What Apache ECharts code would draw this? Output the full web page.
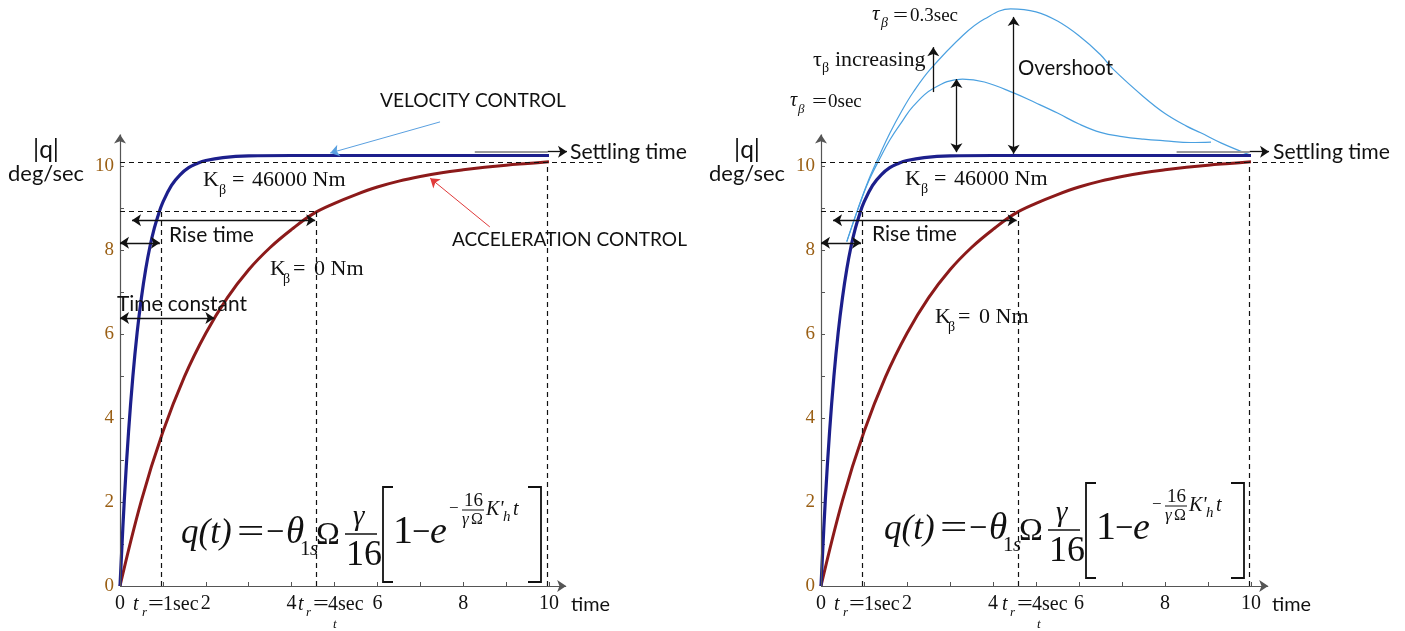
<!DOCTYPE html>
<html><head><meta charset="utf-8">
<script src="https://cdn.jsdelivr.net/npm/echarts@6/dist/echarts.min.js"></script>
<style>html,body{margin:0;padding:0;background:#fff}#c{width:1405px;height:631px}</style>
</head><body><div id="c"></div>
<script>
// ---------- data ----------
const tBlue = [0,0.1,0.2,0.3,0.4,0.5,0.6,0.7,0.8,0.9,1.0,1.2,1.4,1.6,1.8,2.0,2.4,3,4,5,6,7,8,9,10];
const qBlue = [0,2.04,3.68,4.99,6.04,6.87,7.55,8.09,8.52,8.86,9.14,9.54,9.79,9.96,10.06,10.13,10.2,10.24,10.25,10.25,10.25,10.25,10.25,10.25,10.25];
const tRed = [0,0.5,1,1.5,2,2.5,3,3.5,4,4.5,5,5.5,6,6.5,7,7.5,8,8.5,9,9.5,10];
const qRed = [0,2.04,3.67,4.98,6.02,6.86,7.53,8.06,8.49,8.86,9.11,9.32,9.5,9.64,9.75,9.84,9.91,9.97,10.02,10.06,10.1];
const tOverLow = [0.6,0.85,1.1,1.38,1.6,1.9,2.14,2.6,3.29,3.8,4.48,5.0,5.5,6.0,6.5,7.0,7.5,8.0,8.6,9.07];
const qOverLow = [8.2,8.95,9.62,10.2,10.62,11.08,11.42,11.84,12.07,12.0,11.74,11.5,11.26,11.0,10.8,10.7,10.64,10.6,10.56,10.57];
const tOverHigh = [0.6,0.85,1.1,1.38,1.6,1.9,2.14,2.54,3.31,3.8,4.41,5.0,5.5,6.0,6.5,6.8,7.5,8.0,8.5,8.83,9.3,9.98];
const qOverHigh = [8.2,8.95,9.65,10.3,10.78,11.35,11.75,12.3,13.12,13.5,13.74,13.67,13.45,13.1,12.65,12.3,11.65,11.25,10.95,10.79,10.55,10.26];
const xTickLabels = [0,2,4,6,8,10];
const yTickLabels = [0,2,4,6,8,10];
const tickValues = [0,1,2,3,4,5,6,7,8,9,10];
// annotation levels / times
const finalLevel = 10.1, riseLevel = 8.93, trVel = 0.95, trAcc = 4.58, tSettle = 9.97;
const riseArrowLevel = 8.71, velArrowLevel = 8.17, tcLevel = 6.38, tcTime = 2.2, settleLevel = 10.34;
const xAxisEnd = 10.4, yAxisEnd = 10.75;

// ---------- helpers ----------
const SERIF = '"Liberation Serif"';
const SANS = 'Lato';
const cv = document.createElement('canvas').getContext('2d');
function fit(text, family, target, style) {
  cv.font = (style || '') + ' 100px ' + family;
  return 100 * target / cv.measureText(text).width;
}
function txt(x, cy, text, size, family, o) {
  o = o || {};
  return {type:'text', x:x, y:cy, scaleX:o.sx||1, silent:true, z:100,
    style:{text:text, x:0, y:0, fill:o.color||'#111',
      font:(o.italic?'italic ':'')+size+'px '+family,
      textAlign:o.align||'left', textVerticalAlign:'middle', verticalAlign:'middle'}};
}
function b(x, base, text, size, o) { return txt(x, base - 0.34*size, text, size, (o&&o.family)||SERIF, o); }
function sans(x, cy, text, width, o) {
  const s = fit(text, SANS, width);
  return txt(x, cy, text, s, SANS, o);
}
function line(x1,y1,x2,y2,w){return {type:'line',silent:true,z:100,shape:{x1,y1,x2,y2},style:{stroke:'#111',lineWidth:w||1.5}};}
function poly(pts,w){return {type:'polyline',silent:true,z:100,shape:{points:pts},style:{stroke:'#111',lineWidth:w||1.8,fill:null}};}

function equation(dx, dy) {
  const e = [];
  const B = (x, base, t, s, it, sx) => e.push(b(x+dx, base+dy, t, s, {italic:it, sx:sx}));
  B(181,546,'q(t)',35,true);
  B(237,546,'=',36,false,1.35);
  B(266,546,'\u2212',36,false,0.9);
  B(286,546,'\u03b8',37,true);
  B(300,557,'1',21,false);
  B(310,557,'s',21,true);
  B(316,546,'\u03a9',32,false);
  B(353,527,'\u03b3',29,true);
  e.push(line(345+dx,534+dy,377+dx,534+dy,1.5));
  B(346,568,'16',36,false);
  e.push(poly([[393+dx,487+dy],[383+dx,487+dy],[383+dx,582+dy],[393+dx,582+dy]],1.8));
  B(393,546,'1',40,false);
  B(412,546,'\u2212',36,false,0.9);
  B(430,546,'e',38,true);
  B(449,514,'\u2212',17,false);
  B(464,507,'16',19,false);
  e.push(line(462+dx,510+dy,484+dx,510+dy,1));
  B(462,525,'\u03b3',17,true);
  B(471,525,'\u03a9',16,false);
  B(486,517,"K'",20,true);
  B(503,522,'h',15,true);
  B(513,517,'t',20,true);
  e.push(poly([[528+dx,487+dy],[541+dx,487+dy],[541+dx,582+dy],[528+dx,582+dy]],1.8));
  return e;
}

function panelTexts(dx, right) {
  const e = [];
  const B = (x, base, t, s, it, sx) => e.push(b(x+dx, base, t, s, {italic:it, sx:sx}));
  // axis names
  e.push(sans(46+dx, 150, '|q|', 26, {align:'center'}));
  e.push(sans(46+dx, 174, 'deg/sec', 76, {align:'center'}));
  e.push(sans(571+dx, 605, 'time', 39));
  // t_r labels under x axis
  B(133,612,'t',20,true); B(142,617,'r',13,true); B(148,612,'=',20,false,1.4); B(163,612,'1sec',20,false);
  const o4 = right ? 3 : 0;
  B(298+o4,612,'t',20,true); B(306+o4,617,'r',13,true); B(313+o4,612,'=',20,false,1.4); B(328+o4,612,'4sec',20,false);
  B(333+o4,629,'t',13,true);
  // K labels
  const k1 = right ? {x:905-dx, base:187} : {x:203, base:188};
  B(k1.x,k1.base,'K',22,false); B(k1.x+16,k1.base+7,'\u03b2',14,false); B(k1.x+29,k1.base,'=',22,false); B(k1.x+49,k1.base,'46000 Nm',22,false);
  const k0 = right ? {x:935-dx, base:325} : {x:270, base:277};
  B(k0.x,k0.base,'K',22,false); B(k0.x+13,k0.base+7,'\u03b2',14,false); B(k0.x+23,k0.base,'=',22,false); B(k0.x+44,k0.base,'0 Nm',22,false);
  // rise / settling
  e.push(sans((right?872-dx:169)+dx, right?234:235, 'Rise time', 85));
  e.push(sans((right?1273-dx:570)+dx, 152, 'Settling time', 117));
  return e;
}

const leftTexts = [
  sans(380, 101, 'VELOCITY CONTROL', 186),
  sans(452, 240, 'ACCELERATION CONTROL', 235),
  sans(117, 304, 'Time constant', 130)
];
const rightTexts = [
  b(872,22,'\u03c4',21,{italic:true}), b(881,28,'\u03b2',14,{italic:true}), b(893,22,'=',19,{sx:1.4}), b(910,22,'0.3sec',19),
  b(813,68,'\u03c4',22), b(822,73,'\u03b2',14), b(835,68,'increasing',22),
  b(790,108,'\u03c4',20,{italic:true}), b(798,114,'\u03b2',13,{italic:true}), b(812,108,'=',19,{sx:1.4}), b(828,108,'0sec',19),
  sans(1018, 68, 'Overshoot', 95)
];

// ---------- markLines ----------
const DASH = {type:[5,4], color:'#111', width:1.2};
const ARR = {type:'solid', color:'#111', width:1.3};
function ml(a, c, style, s0, s1) { return [{coord:a, symbol:s0||'none', lineStyle:style}, {coord:c, symbol:s1||'none'}]; }
function commonLines(dashEnd) {
  return [
    ml([0,0],[xAxisEnd,0],{type:'solid',color:'#555',width:1.2},'none','arrow'),
    ml([0,0],[0,yAxisEnd],{type:'solid',color:'#555',width:1.2},'none','arrow'),
    ml([0,finalLevel],[dashEnd,finalLevel],DASH),
    ml([0,riseLevel],[trAcc,riseLevel],DASH),
    ml([trVel,0],[trVel,riseLevel],DASH),
    ml([trAcc,0],[trAcc,riseLevel],DASH),
    ml([tSettle,0],[tSettle,finalLevel],DASH),
    ml([0.28,riseArrowLevel],[4.55,riseArrowLevel],ARR,'arrow','arrow'),
    ml([0,velArrowLevel],[0.93,velArrowLevel],ARR,'arrow','arrow'),
    ml([8.27,settleLevel],[tSettle,settleLevel],{type:'solid',color:'#9a9a9a',width:2}),
    ml([tSettle,settleLevel],[10.42,settleLevel],ARR,'none','arrow')
  ];
}
const leftLines = commonLines(11.3).concat([
  ml([0,tcLevel],[tcTime,tcLevel],ARR,'arrow','arrow'),
  ml([7.46,11.05],[4.9,10.31],{type:'solid',color:'#5aa0e0',width:1},'none','arrow'),
  ml([8.62,8.55],[7.23,9.71],{type:'solid',color:'#e03a3a',width:1},'none','arrow')
]);
const rightLines = commonLines(11.24).concat([
  ml([2.61,11.76],[2.61,12.83],ARR,'none','arrow'),
  ml([3.15,10.33],[3.15,12.07],ARR,'arrow','arrow'),
  ml([4.48,10.29],[4.48,13.55],ARR,'arrow','arrow')
]);

// ---------- option ----------
const zip = (a, c) => a.map((v, i) => [v, c[i]]);
function xAx(i){return {type:'value', gridIndex:i, min:0, max:11.5, axisLine:{show:false}, splitLine:{show:false},
  axisTick:{inside:true, length:4, customValues:tickValues, lineStyle:{color:'#555'}},
  axisLabel:{customValues:xTickLabels, margin:8, color:'#111', fontFamily:'Liberation Serif', fontSize:20}};}
function yAx(i){return {type:'value', gridIndex:i, min:0, max:13.9, axisLine:{show:false}, splitLine:{show:false},
  axisTick:{inside:true, length:4, customValues:tickValues, lineStyle:{color:'#555'}},
  axisLabel:{customValues:yTickLabels, margin:6, color:'#9a5f14', fontFamily:'Liberation Serif', fontSize:19}};}
function curve(i, t, q, color, w, z){return {type:'line', xAxisIndex:i, yAxisIndex:i, data:zip(t,q), symbol:'none', showSymbol:false,
  smooth:0.4, clip:false, silent:true, z:z, lineStyle:{color:color, width:w}};}
function marks(lines){return {silent:true, symbol:['none','none'], symbolSize:9, label:{show:false}, animation:false, data:lines};}

const series = [];
[0,1].forEach(i => {
  if (i === 1) {
    series.push(curve(1, tOverLow, qOverLow, '#4aa0e0', 1.2, 2));
    series.push(curve(1, tOverHigh, qOverHigh, '#4aa0e0', 1.2, 2));
  }
  const red = curve(i, tRed, qRed, '#8c1a1a', 3, 3);
  red.markLine = marks(i === 0 ? leftLines : rightLines);
  series.push(red);
  series.push(curve(i, tBlue, qBlue, '#1c1f8c', 3.2, 4));
});

const option = {
  animation:false,
  backgroundColor:'#fff',
  grid:[
    {left:120, top:586-13.9*42, width:11.5*42.9, height:13.9*42},
    {left:821, top:586-13.9*42, width:11.5*43, height:13.9*42}
  ],
  xAxis:[xAx(0), xAx(1)],
  yAxis:[yAx(0), yAx(1)],
  series:series,
  graphic:{elements:[].concat(equation(0,0), equation(703,-4), panelTexts(0,false), panelTexts(701,true), leftTexts, rightTexts)}
};
const chart = echarts.init(document.getElementById('c'), null, {renderer:'canvas'});
chart.setOption(option);
</script>
</body></html>
